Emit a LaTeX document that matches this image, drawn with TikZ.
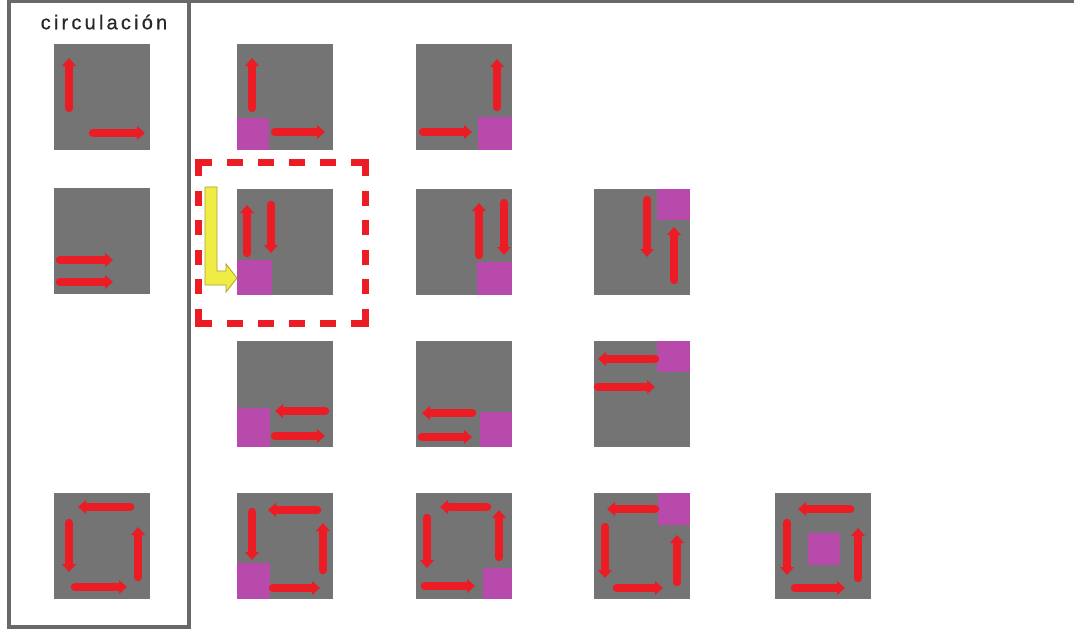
\documentclass[tikz,border=0pt]{standalone}
\usepackage{fontspec}
\setmainfont{Liberation Sans}
\newfontfamily\labelfont[LetterSpace=16,FakeBold=0.6]{Liberation Sans}
\usetikzlibrary{arrows.meta}
\definecolor{sqgray}{RGB}{116,116,116}
\definecolor{redc}{RGB}{236,28,36}
\definecolor{magc}{RGB}{184,74,172}
\definecolor{framec}{RGB}{105,105,105}
\definecolor{yellc}{RGB}{240,236,70}
\definecolor{yellline}{RGB}{170,160,40}
\definecolor{txtc}{RGB}{40,40,40}
\tikzset{
  sqbox/.style={fill=sqgray, draw=none, minimum width=96pt, minimum height=106pt, inner sep=0pt, outer sep=0pt, anchor=north west},
  ra/.style={draw=redc, line width=8.5pt, line cap=round, -{Triangle[width=13.5pt,length=8pt]}},
  mag/.style={fill=magc},
  frame/.style={draw=framec, line width=3.2pt},
  dashbox/.style={draw=redc, line width=7pt},
}
\newcommand{\sqr}[3]{\node[sqbox] (#1) at (#2,#3) {};}
\begin{document}
\begin{tikzpicture}[x=1pt,y=-1pt]
\useasboundingbox (0,0) rectangle (1074,632);
\fill[white] (0,0) rectangle (1074,632);
% frame
\draw[frame] (9,0) -- (9,627) -- (189,627) -- (189,0);
\draw[frame] (7.4,1.6) -- (1074,1.6);
\node[font=\labelfont\fontsize{20}{24}\selectfont, text=txtc, inner sep=0pt] (title) at (104,22) {circulación};
% squares
\sqr{s00}{54}{44}
\sqr{s01}{237}{44}
\sqr{s02}{416}{44}
\sqr{s10}{54}{188}
\sqr{s11}{237}{189}
\sqr{s12}{416}{189}
\sqr{s13}{594}{189}
\sqr{s21}{237}{341}
\sqr{s22}{416}{341}
\sqr{s23}{594}{341}
\sqr{s30}{54}{493}
\sqr{s31}{237}{493}
\sqr{s32}{416}{493}
\sqr{s33}{594}{493}
\sqr{s34}{775}{493}
% row 0
\begin{scope}[shift={(s00.north west)}]
\draw[ra] (15,64) -- (15,14);
\draw[ra] (39,89) -- (91,89);
\end{scope}
\begin{scope}[shift={(s01.north west)}]
\fill[mag] (0,74) rectangle (32,106);
\draw[ra] (15,64) -- (15,14);
\draw[ra] (38,88) -- (88,88);
\end{scope}
\begin{scope}[shift={(s02.north west)}]
\fill[mag] (62,73) rectangle (96,106);
\draw[ra] (81,63) -- (81,15);
\draw[ra] (7,88) -- (56,88);
\end{scope}
% row 1
\begin{scope}[shift={(s10.north west)}]
\draw[ra] (6,72) -- (59,72);
\draw[ra] (6,94) -- (59,94);
\end{scope}
\begin{scope}[shift={(s11.north west)}]
\fill[mag] (0,71) rectangle (35,106);
\draw[ra] (10,64) -- (10,16);
\draw[ra] (34,16) -- (34,64);
\end{scope}
\begin{scope}[shift={(s12.north west)}]
\fill[mag] (61,73) rectangle (96,106);
\draw[ra] (63,66) -- (63,14);
\draw[ra] (88,14) -- (88,66);
\end{scope}
\begin{scope}[shift={(s13.north west)}]
\fill[mag] (63,0) rectangle (96,31);
\draw[ra] (53,11) -- (53,68);
\draw[ra] (80,91) -- (80,38);
\end{scope}
% row 2
\begin{scope}[shift={(s21.north west)}]
\fill[mag] (0,67) rectangle (33,106);
\draw[ra] (88,70) -- (38,70);
\draw[ra] (38,95) -- (88,95);
\end{scope}
\begin{scope}[shift={(s22.north west)}]
\fill[mag] (64,71) rectangle (96,106);
\draw[ra] (56,72) -- (6,72);
\draw[ra] (6,96) -- (56,96);
\end{scope}
\begin{scope}[shift={(s23.north west)}]
\fill[mag] (63,0) rectangle (96,31);
\draw[ra] (61,18) -- (4,18);
\draw[ra] (4,46) -- (61,46);
\end{scope}
% row 3
\begin{scope}[shift={(s30.north west)}]
\draw[ra] (76,14) -- (24,14);
\draw[ra] (15,30) -- (15,79);
\draw[ra] (21,94) -- (73,94);
\draw[ra] (84,84) -- (84,34);
\end{scope}
\begin{scope}[shift={(s31.north west)}]
\fill[mag] (0,70) rectangle (33,106);
\draw[ra] (80,17) -- (31,17);
\draw[ra] (15,19) -- (15,67);
\draw[ra] (36,95) -- (83,95);
\draw[ra] (86,77) -- (86,30);
\end{scope}
\begin{scope}[shift={(s32.north west)}]
\fill[mag] (67,75) rectangle (96,106);
\draw[ra] (71,14) -- (24,14);
\draw[ra] (11,25) -- (11,75);
\draw[ra] (9,93) -- (59,93);
\draw[ra] (83,64) -- (83,17);
\end{scope}
\begin{scope}[shift={(s33.north west)}]
\fill[mag] (64,0) rectangle (96,32);
\draw[ra] (61,16) -- (13,16);
\draw[ra] (11,34) -- (11,85);
\draw[ra] (23,95) -- (69,95);
\draw[ra] (83,89) -- (83,42);
\end{scope}
\begin{scope}[shift={(s34.north west)}]
\fill[mag] (33,40) rectangle (65,72);
\draw[ra] (75,16) -- (23,16);
\draw[ra] (12,30) -- (12,82);
\draw[ra] (20,95) -- (70,95);
\draw[ra] (83,85) -- (83,35);
\end{scope}
% highlighted option: dashed box and yellow arrow
\coordinate (d1) at (194.5,162);
\coordinate (d2) at (368.5,162);
\coordinate (d3) at (194.5,323);
\coordinate (d4) at (368.5,323);
\coordinate (d5) at (198,158.5);
\coordinate (d6) at (198,326.5);
\coordinate (d7) at (365,158.5);
\coordinate (d8) at (365,326.5);
\draw[dashbox, dash pattern={on 17.5pt off 15pt on 16pt off 15pt on 16pt off 15pt on 16pt off 15pt on 16pt off 15pt on 17.5pt}] (d1) -- (d2);
\draw[dashbox, dash pattern={on 17.5pt off 15pt on 16pt off 15pt on 16pt off 15pt on 16pt off 15pt on 16pt off 15pt on 17.5pt}] (d3) -- (d4);
\draw[dashbox, dash pattern={on 17.5pt off 14.6pt on 15pt off 14.6pt on 15pt off 14.6pt on 15pt off 14.6pt on 15pt off 14.6pt on 17.5pt}] (d5) -- (d6);
\draw[dashbox, dash pattern={on 17.5pt off 14.6pt on 15pt off 14.6pt on 15pt off 14.6pt on 15pt off 14.6pt on 15pt off 14.6pt on 17.5pt}] (d7) -- (d8);
\draw[fill=yellc, draw=yellline, line width=0.8pt, line join=miter]
  (205,187) -- (217,187) -- (217,271) -- (226,271) -- (226,264) -- (237,278)
  -- (226,292) -- (226,285) -- (205,285) -- cycle;
\end{tikzpicture}
\end{document}
